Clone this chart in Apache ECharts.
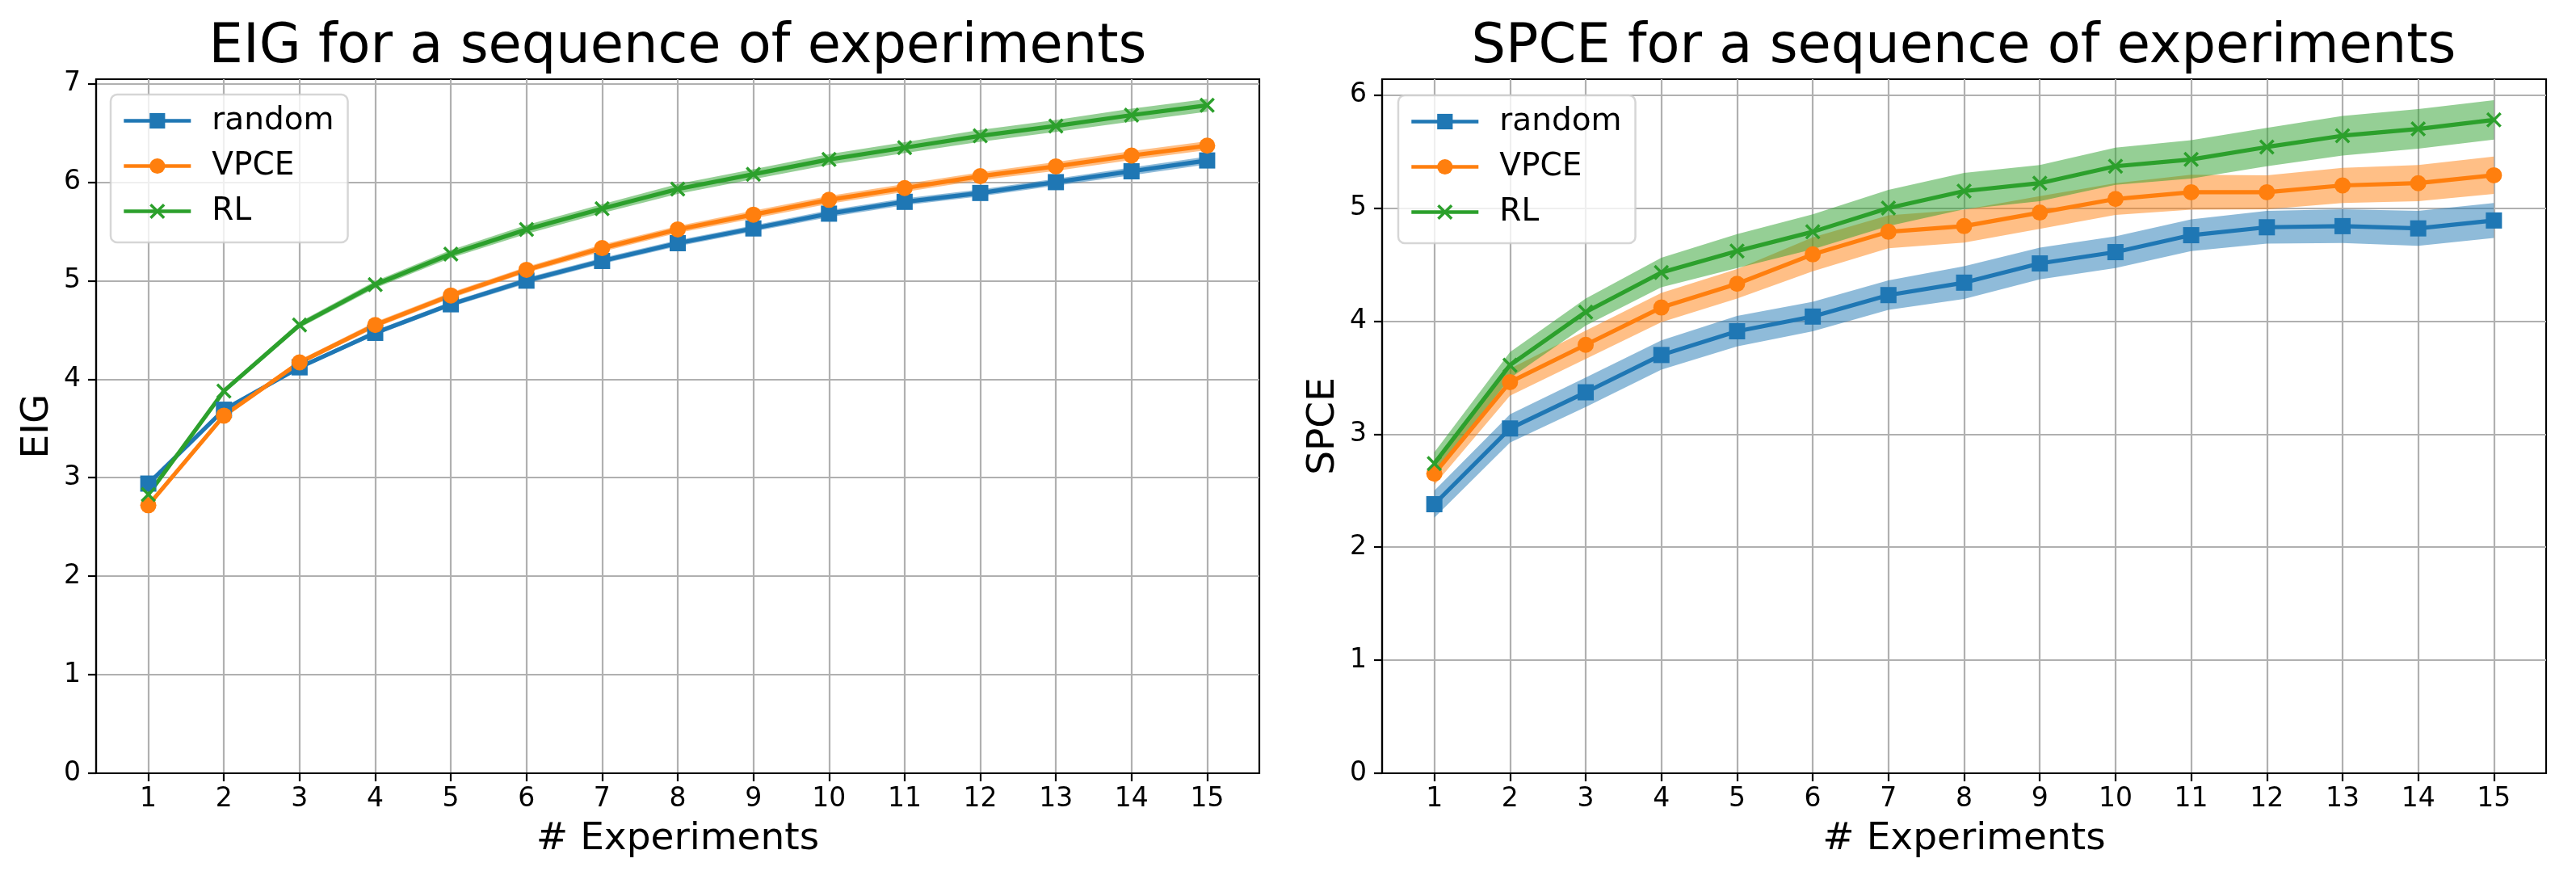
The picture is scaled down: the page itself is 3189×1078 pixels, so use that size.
<!DOCTYPE html>
<html>
<head>
<meta charset="utf-8">
<script src="https://cdn.jsdelivr.net/npm/echarts@6/dist/echarts.min.js"></script>
<style>
html, body { margin: 0; padding: 0; background: #fff; }
#main { width: 3189px; height: 1078px; }
</style>
</head>
<body>
<div id="main"></div>
<script>
// values
var experiments = [1, 2, 3, 4, 5, 6, 7, 8, 9, 10, 11, 12, 13, 14, 15];
var eigTicks = [0, 1, 2, 3, 4, 5, 6, 7];
var spceTicks = [0, 1, 2, 3, 4, 5, 6];

var eigRandom = [2.94, 3.69, 4.12, 4.47, 4.76, 5.00, 5.20, 5.38, 5.53, 5.68, 5.80, 5.89, 6.00, 6.11, 6.22];
var eigRandomSd = [0.02, 0.02, 0.02, 0.025, 0.025, 0.03, 0.03, 0.03, 0.03, 0.035, 0.035, 0.035, 0.035, 0.04, 0.04];
var eigVPCE = [2.72, 3.63, 4.17, 4.55, 4.85, 5.11, 5.33, 5.52, 5.67, 5.82, 5.94, 6.06, 6.16, 6.27, 6.37];
var eigVPCESd = [0.02, 0.02, 0.025, 0.03, 0.03, 0.03, 0.035, 0.035, 0.04, 0.04, 0.04, 0.04, 0.045, 0.045, 0.045];
var eigRL = [2.83, 3.88, 4.55, 4.96, 5.27, 5.52, 5.73, 5.93, 6.08, 6.23, 6.35, 6.47, 6.57, 6.68, 6.78];
var eigRLSd = [0.02, 0.025, 0.03, 0.035, 0.04, 0.045, 0.045, 0.05, 0.05, 0.055, 0.055, 0.06, 0.06, 0.065, 0.065];

var spceRandom = [2.38, 3.05, 3.37, 3.70, 3.91, 4.04, 4.23, 4.34, 4.51, 4.61, 4.76, 4.83, 4.84, 4.82, 4.89];
var spceRandomSd = [0.12, 0.125, 0.13, 0.13, 0.135, 0.13, 0.13, 0.145, 0.14, 0.14, 0.14, 0.145, 0.15, 0.155, 0.155];
var spceVPCE = [2.65, 3.46, 3.79, 4.12, 4.33, 4.59, 4.79, 4.84, 4.96, 5.08, 5.14, 5.14, 5.20, 5.22, 5.29];
var spceVPCESd = [0.1, 0.12, 0.125, 0.13, 0.13, 0.15, 0.145, 0.145, 0.145, 0.14, 0.155, 0.15, 0.155, 0.16, 0.165];
var spceRL = [2.74, 3.61, 4.08, 4.43, 4.62, 4.79, 5.00, 5.15, 5.22, 5.37, 5.43, 5.54, 5.64, 5.70, 5.78];
var spceRLSd = [0.1, 0.115, 0.12, 0.13, 0.15, 0.155, 0.16, 0.16, 0.16, 0.165, 0.17, 0.17, 0.175, 0.175, 0.175];

var FONT = "DejaVu Sans";
var BLUE = "#1f77b4", ORANGE = "#ff7f0e", GREEN = "#2ca02c";
var LINE_W = 5.2;
var CROSS = "path://M0,13 L13,0 L50,37 L87,0 L100,13 L63,50 L100,87 L87,100 L50,63 L13,100 L0,87 L37,50 Z";

function pairs(ys) {
    var list = [];
    for (var i = 0; i < experiments.length; i++) {
        list.push([experiments[i], ys[i]]);
    }
    return list;
}

function lineSeries(name, ys, color, symbol, size, idx) {
    return {
        type: "line", name: name, xAxisIndex: idx, yAxisIndex: idx,
        data: pairs(ys), symbol: symbol, symbolSize: size, showSymbol: true,
        color: color, itemStyle: { color: color },
        lineStyle: { color: color, width: LINE_W },
        z: 3, animation: false
    };
}

// shaded band drawn as one polygon through the axis scales
function bandSeries(name, ys, sd, color, idx) {
    return {
        type: "custom", name: name, xAxisIndex: idx, yAxisIndex: idx,
        silent: true, z: 1, animation: false,
        data: [[experiments[0], ys[0]]],
        renderItem: function (params, api) {
            var upper = [], lower = [];
            for (var i = 0; i < experiments.length; i++) {
                upper.push(api.coord([experiments[i], ys[i] + sd[i]]));
                lower.unshift(api.coord([experiments[i], ys[i] - sd[i]]));
            }
            return {
                type: "polygon",
                shape: { points: upper.concat(lower) },
                style: { fill: color, opacity: 0.5 }
            };
        }
    };
}

function xAxis(idx) {
    return {
        type: "value", gridIndex: idx, min: 0.31, max: 15.69,
        name: "# Experiments", nameLocation: "middle", nameGap: 58,
        nameTextStyle: { fontFamily: FONT, fontSize: 47, color: "#000" },
        axisLine: { show: true, onZero: false, lineStyle: { color: "#000", width: 2.2 } },
        axisTick: { show: true, length: 10, customValues: experiments, lineStyle: { color: "#000", width: 2.2 } },
        axisLabel: { fontFamily: FONT, fontSize: 33, color: "#000", margin: 16, customValues: experiments },
        splitLine: { show: true, lineStyle: { color: "#b0b0b0", width: 2.2 } }
    };
}

function yAxis(idx, name, max, ticks) {
    return {
        type: "value", gridIndex: idx, min: 0, max: max,
        name: name, nameLocation: "middle", nameGap: 49, nameRotate: 90,
        nameTextStyle: { fontFamily: FONT, fontSize: 47, color: "#000" },
        axisLine: { show: true, onZero: false, lineStyle: { color: "#000", width: 2.2 } },
        axisTick: { show: true, length: 10, customValues: ticks, lineStyle: { color: "#000", width: 2.2 } },
        axisLabel: { fontFamily: FONT, fontSize: 33, color: "#000", margin: 19, customValues: ticks },
        splitLine: { show: true, lineStyle: { color: "#b0b0b0", width: 2.2 } }
    };
}

function legend(left, top) {
    return {
        orient: "vertical", left: left, top: top,
        data: ["random", "VPCE", "RL"],
        itemWidth: 83, itemHeight: 24, itemGap: 17,
        padding: [13, 17, 19, 14],
        backgroundColor: "rgba(255,255,255,0.8)",
        borderColor: "rgba(204,204,204,0.8)", borderWidth: 2.5, borderRadius: 8,
        lineStyle: { width: 4.6 },
        textStyle: { fontFamily: FONT, fontSize: 39, color: "#000", lineHeight: 39, padding: [0, 0, 0, 21] },
        selectedMode: false
    };
}

function title(text, center) {
    return {
        text: text, left: center, top: 26, textAlign: "center", padding: 0,
        textStyle: { fontFamily: FONT, fontSize: 67, fontWeight: "normal", color: "#000" }
    };
}

var chart = echarts.init(document.getElementById("main"), null, { renderer: "canvas" });
var option = {
    backgroundColor: "#fff",
    animation: false,
    title: [
        title("EIG for a sequence of experiments", 839),
        title("SPCE for a sequence of experiments", 2431)
    ],
    legend: [legend(137, 117), legend(1731, 118)],
    grid: [
        { left: 119, top: 98, width: 1440, height: 859, show: true, borderColor: "#000", borderWidth: 2.2, backgroundColor: "transparent" },
        { left: 1711, top: 98, width: 1441, height: 859, show: true, borderColor: "#000", borderWidth: 2.2, backgroundColor: "transparent" }
    ],
    xAxis: [xAxis(0), xAxis(1)],
    yAxis: [yAxis(0, "EIG", 7.045, eigTicks), yAxis(1, "SPCE", 6.14, spceTicks)],
    series: [
        bandSeries("random band", eigRandom, eigRandomSd, BLUE, 0),
        bandSeries("VPCE band", eigVPCE, eigVPCESd, ORANGE, 0),
        bandSeries("RL band", eigRL, eigRLSd, GREEN, 0),
        lineSeries("random", eigRandom, BLUE, "rect", 20, 0),
        lineSeries("VPCE", eigVPCE, ORANGE, "circle", 20, 0),
        lineSeries("RL", eigRL, GREEN, CROSS, 19, 0),

        bandSeries("random band", spceRandom, spceRandomSd, BLUE, 1),
        bandSeries("VPCE band", spceVPCE, spceVPCESd, ORANGE, 1),
        bandSeries("RL band", spceRL, spceRLSd, GREEN, 1),
        lineSeries("random", spceRandom, BLUE, "rect", 20, 1),
        lineSeries("VPCE", spceVPCE, ORANGE, "circle", 20, 1),
        lineSeries("RL", spceRL, GREEN, CROSS, 19, 1)
    ]
};
chart.setOption(option);
</script>
</body>
</html>
